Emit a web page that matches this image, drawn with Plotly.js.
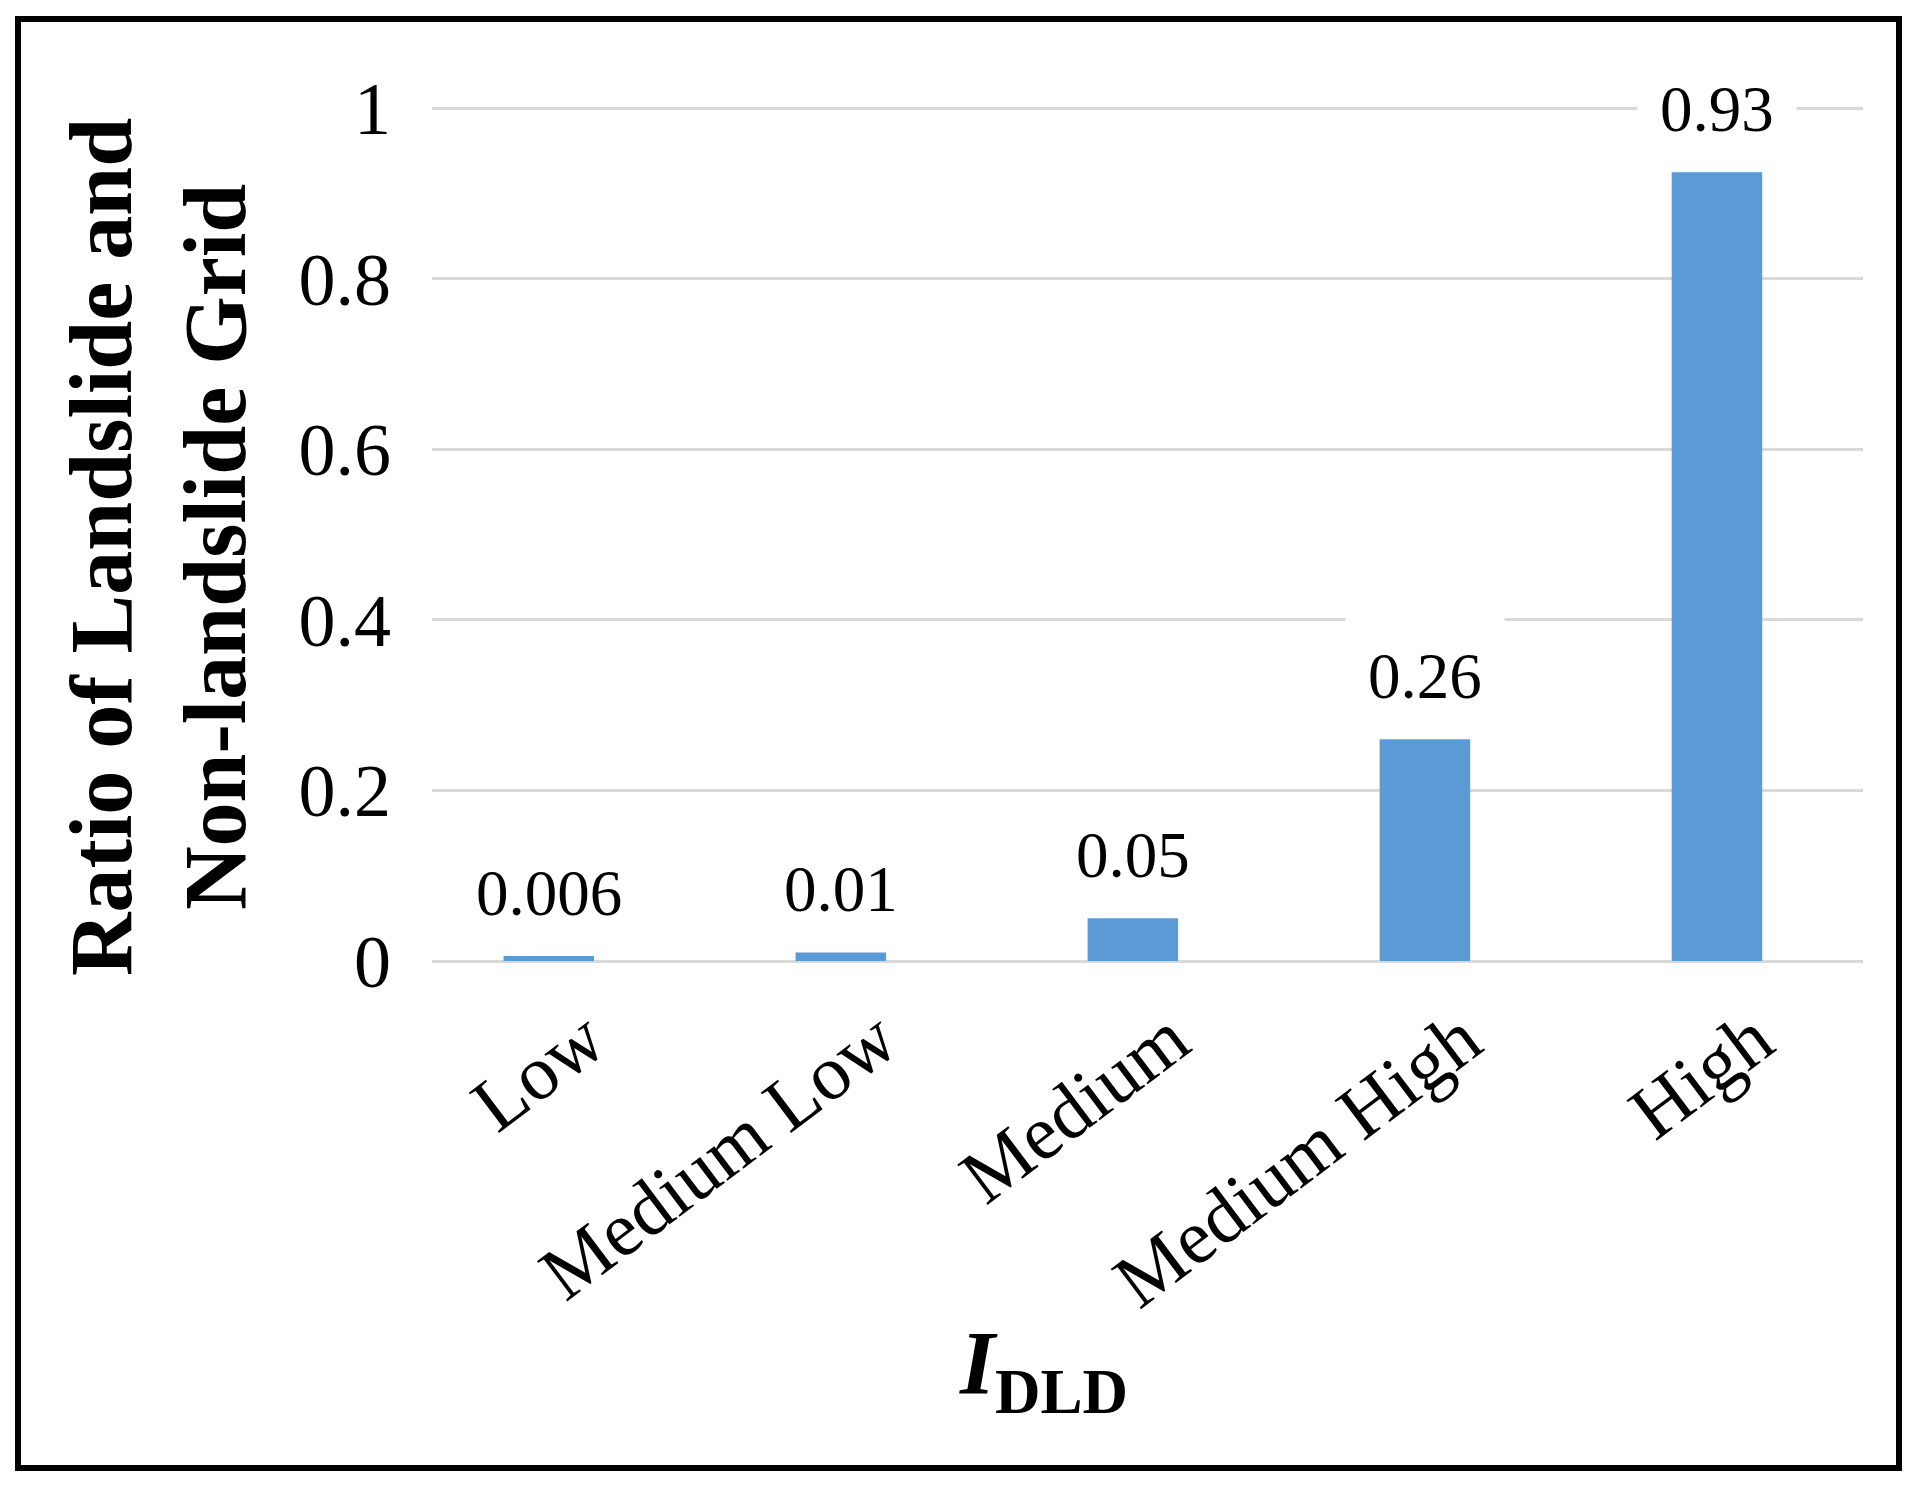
<!DOCTYPE html>
<html>
<head>
<meta charset="utf-8">
<script src="https://cdn.plot.ly/plotly-3.0.1.min.js"></script>
<style>
  html, body { margin: 0; padding: 0; background: #ffffff; }
  #chart { width: 1917px; height: 1490px; }
</style>
</head>
<body>
<div id="chart"></div>
<script>
// ---- data ----
const categories = ['Low', 'Medium Low', 'Medium', 'Medium High', 'High'];
const ratios = [0.006, 0.01, 0.05, 0.26, 0.925];
const ratioLabels = ['0.006', '0.01', '0.05', '0.26', '0.93'];
const yTickVals = [0, 0.2, 0.4, 0.6, 0.8, 1];
const yTickText = ['0', '0.2', '0.4', '0.6', '0.8', '1'];
const yTitleLines = ['Ratio of Landslide and', 'Non-landslide Grid'];
const xTitleMain = 'I';
const xTitleSub = 'DLD';

// ---- style ----
const FONT = 'Liberation Serif, Times New Roman, serif';
const W = 1917, H = 1490;
const M = { l: 432, r: 54, t: 104, b: 529 };
const plotW = W - M.l - M.r, plotH = H - M.t - M.b;
const px2x = p => (p - M.l) / plotW;
const py2y = p => (H - M.b - p) / plotH;

// category tick labels sit a little to the right of the bars (as in the reference)
const xRange = [-0.53, 4.37];
const labelShiftPx = 38;
const labelShiftU = labelShiftPx * (xRange[1] - xRange[0]) / plotW;
const barWidth = 0.31;

const trace = {
  type: 'bar',
  x: categories,
  y: ratios,
  width: barWidth,
  offset: -barWidth / 2 - labelShiftU,
  marker: { color: '#5B9BD5' },
  hoverinfo: 'x+y'
};

const dataLabels = categories.map((c, i) => ({
  x: c, y: ratios[i], xref: 'x', yref: 'y',
  text: ratioLabels[i],
  showarrow: false,
  xanchor: 'center', yanchor: 'bottom',
  xshift: -labelShiftPx,
  yshift: 4,
  bgcolor: '#ffffff',
  borderpad: 22,
  font: { family: FONT, size: 65, color: '#000000' }
}));

const layout = {
  width: W, height: H,
  margin: M,
  paper_bgcolor: '#ffffff',
  plot_bgcolor: '#ffffff',
  showlegend: false,
  xaxis: {
    type: 'category',
    range: xRange,
    showgrid: false,
    showline: false,
    zeroline: false,
    ticks: '',
    tickangle: -37,
    tickfont: { family: FONT, size: 77, color: '#000000' },
    ticklabelstandoff: 18
  },
  yaxis: {
    range: [0, 1.005],
    tickvals: yTickVals,
    ticktext: yTickText,
    showgrid: true,
    gridcolor: '#D9D9D9',
    gridwidth: 3,
    zeroline: true,
    zerolinecolor: '#D9D9D9',
    zerolinewidth: 3,
    showline: false,
    ticks: '',
    tickfont: { family: FONT, size: 74, color: '#000000' },
    ticklabelstandoff: 40
  },
  annotations: dataLabels.concat([
    {
      xref: 'paper', yref: 'paper',
      x: px2x(158), y: py2y(547),
      xanchor: 'center', yanchor: 'middle',
      textangle: -90,
      showarrow: false,
      text: '<b>' + yTitleLines.join('<br>') + '</b>',
      font: { family: FONT, size: 88, color: '#000000' }
    },
    {
      xref: 'paper', yref: 'paper',
      x: px2x(1043), y: py2y(1370),
      xanchor: 'center', yanchor: 'middle',
      showarrow: false,
      text: '<b><i>' + xTitleMain + '</i></b><sub><b>' + xTitleSub + '</b></sub>',
      font: { family: FONT, size: 90, color: '#000000' }
    }
  ]),
  shapes: [{
    type: 'rect', xref: 'paper', yref: 'paper',
    x0: px2x(18), x1: px2x(1899),
    y0: py2y(1468), y1: py2y(19),
    line: { color: '#000000', width: 6 },
    fillcolor: 'rgba(0,0,0,0)',
    layer: 'above'
  }]
};

Plotly.newPlot('chart', [trace], layout, { displayModeBar: false, staticPlot: true });
</script>
</body>
</html>
